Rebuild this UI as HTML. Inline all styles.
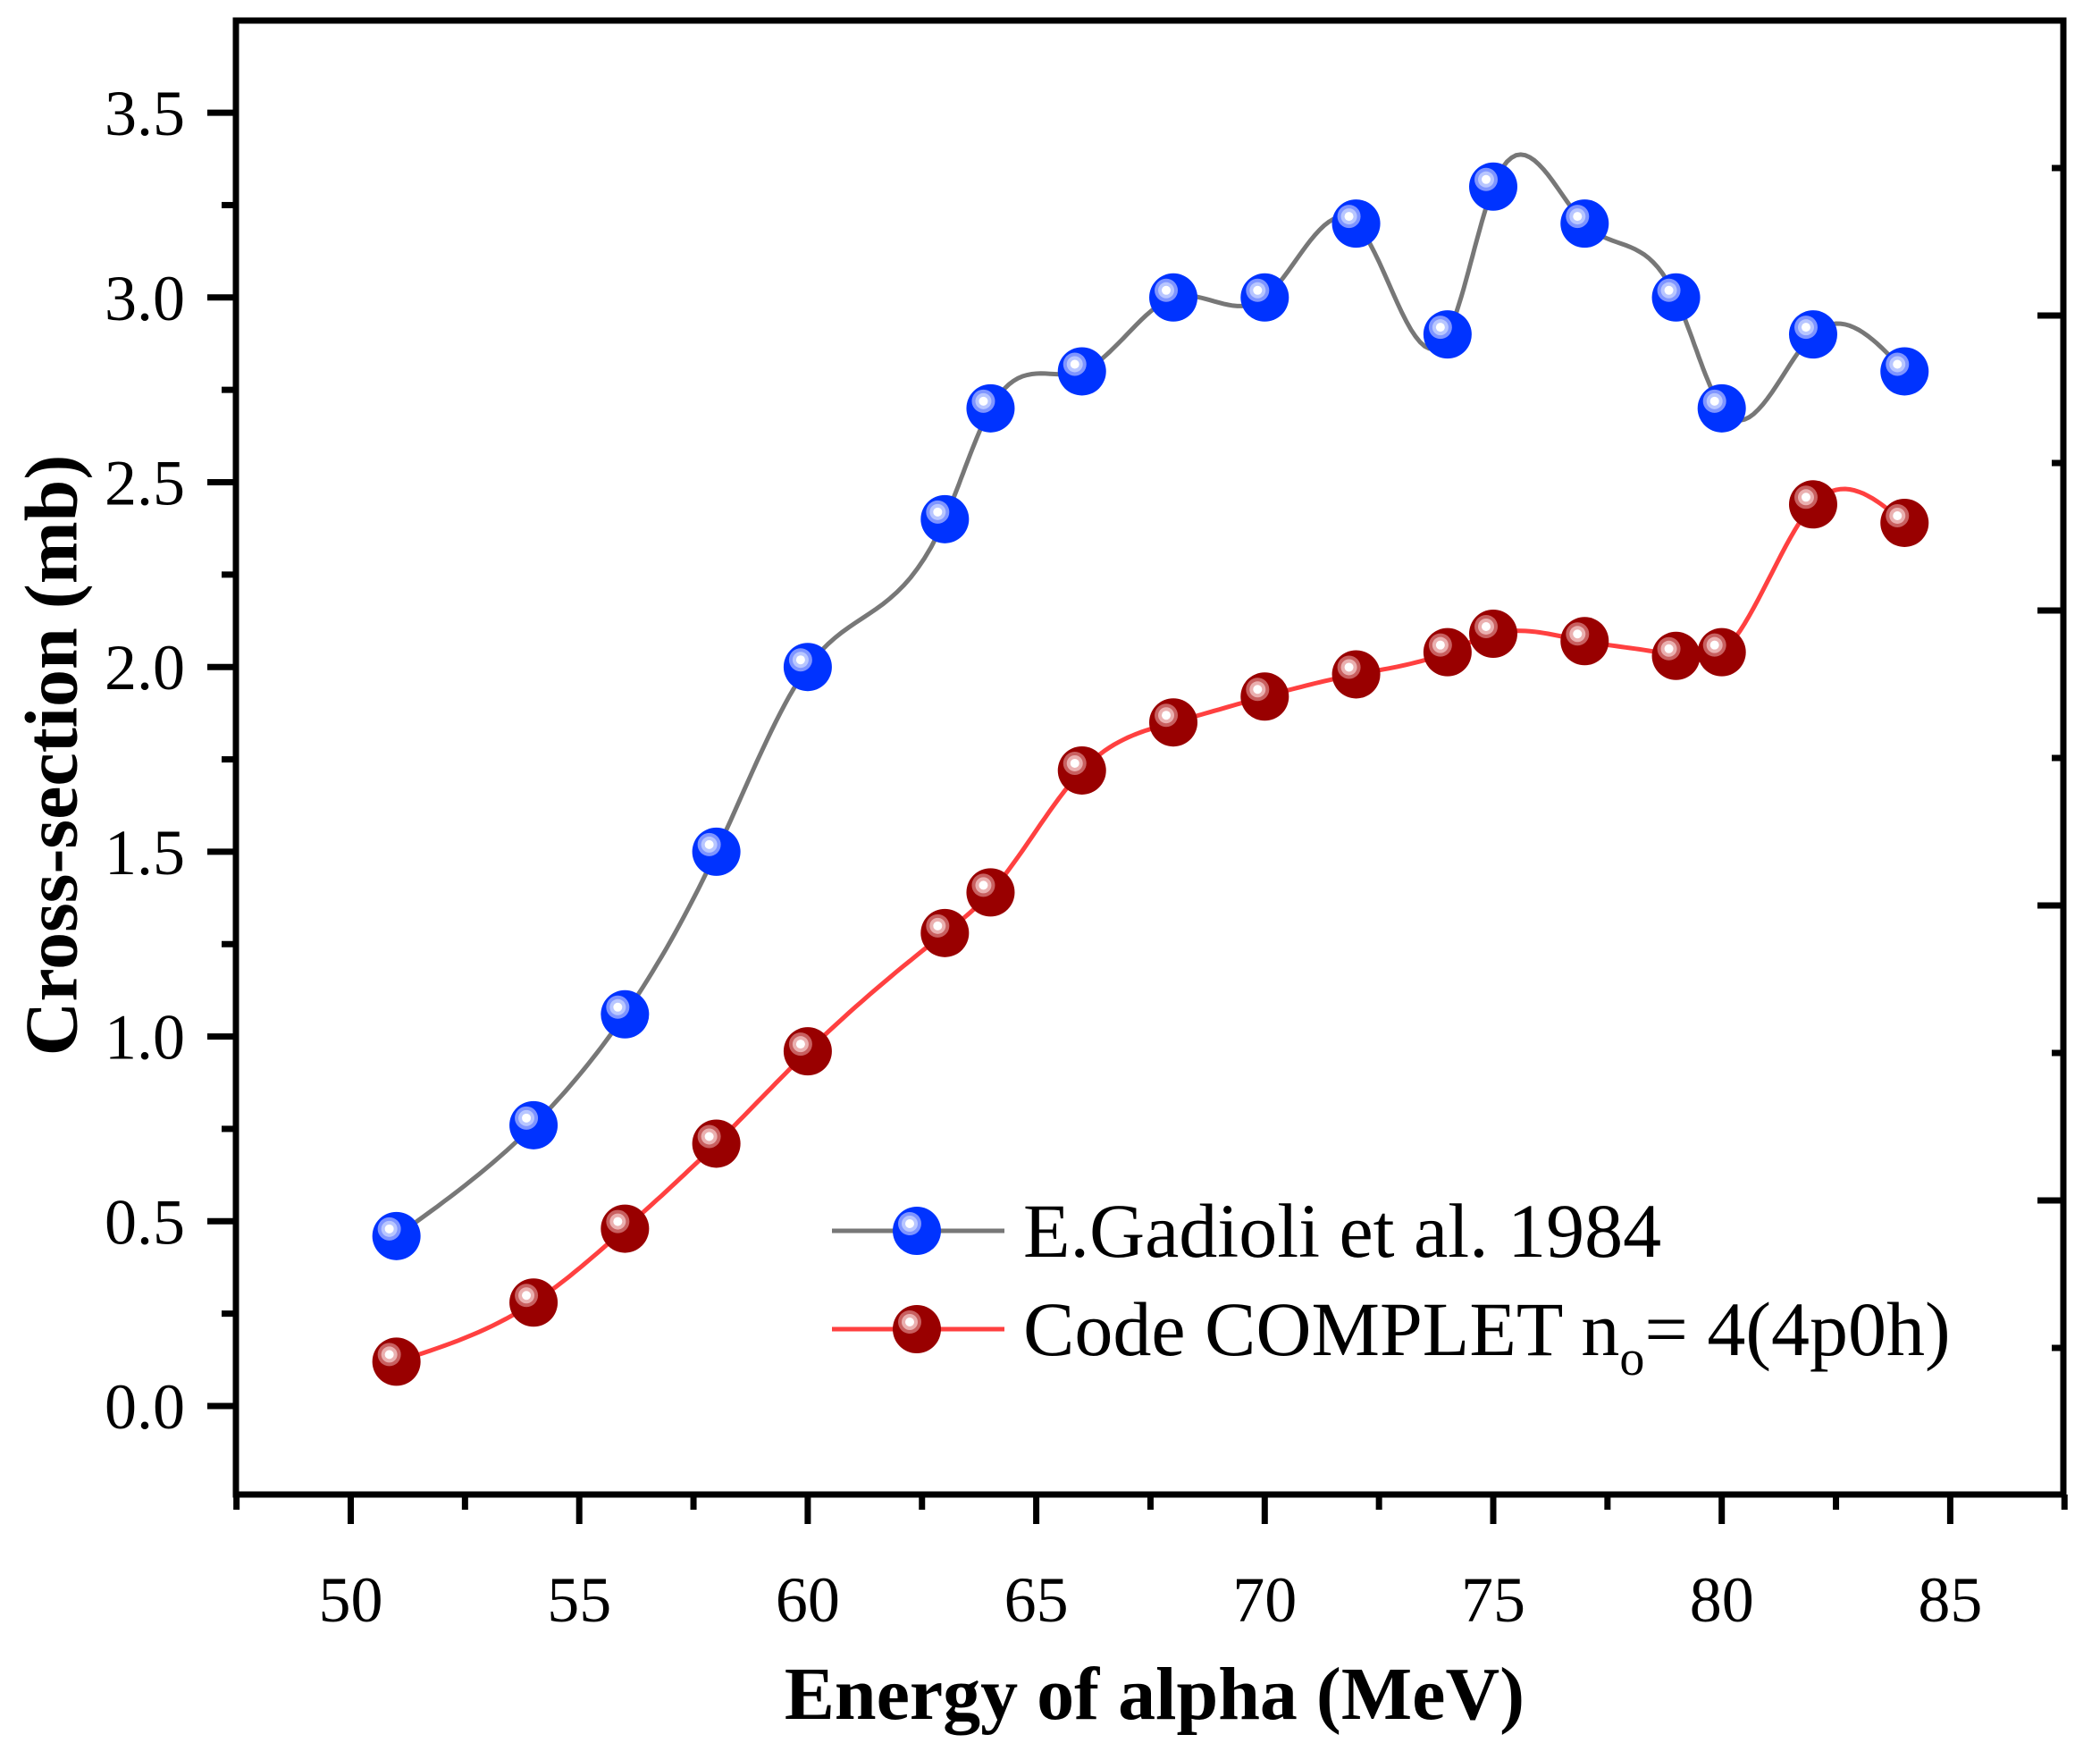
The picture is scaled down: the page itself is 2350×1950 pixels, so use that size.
<!DOCTYPE html>
<html><head><meta charset="utf-8"><style>
html,body{margin:0;padding:0;background:#fff;}
svg{display:block;font-family:"Liberation Serif",serif;}
</style></head><body>
<svg id="s" width="2350" height="1950" viewBox="0 0 2350 1950" xmlns="http://www.w3.org/2000/svg">
<g id="ax" stroke="#000" stroke-width="7" fill="none"></g>
<g id="lbl" font-size="72" fill="#000"></g>
<g id="curves" fill="none" stroke-width="5"></g>
<g id="pts"></g>
<text x="66" y="845" font-size="84" font-weight="bold" text-anchor="middle" transform="rotate(-90 66 845)" dominant-baseline="middle">Cross-section (mb)</text>
<text x="1292" y="1923" font-size="84" font-weight="bold" text-anchor="middle">Energy of alpha (MeV)</text>
<g id="leg"></g>
<text x="1145" y="1406" font-size="86">E.Gadioli et al. 1984</text>
<text x="1145" y="1516" font-size="86">Code COMPLET n<tspan font-size="56" dy="22">o</tspan><tspan dy="-22">= 4(4p0h)</tspan></text>
</svg>
<script>
var NS="http://www.w3.org/2000/svg";
function X(v){return 392.5+(v-50)*51.14;}
function Y(v){return 1573-v*413.4;}
function el(p,t,a){var e=document.createElementNS(NS,t);for(var k in a)e.setAttribute(k,a[k]);document.getElementById(p).appendChild(e);return e;}
el("ax","rect",{x:264,y:23,width:2045,height:1649});
for(var v=0;v<=3.5001;v+=0.5){var y=Y(v);el("ax","line",{x1:232,y1:y,x2:264,y2:y});
 var t=el("lbl","text",{x:207,y:y+25,"text-anchor":"end"});t.textContent=v.toFixed(1);}
for(var v=-0.25;v<=3.75;v+=0.5){var y=Y(v);if(y<23||y>1672)continue;el("ax","line",{x1:248,y1:y,x2:264,y2:y});}
for(var v=50;v<=85;v+=5){var x=X(v);el("ax","line",{x1:x,y1:1672,x2:x,y2:1705});
 var t=el("lbl","text",{x:x,y:1814,"text-anchor":"middle"});t.textContent=v;}
for(var v=47.5;v<=87.5;v+=5){var x=X(v);el("ax","line",{x1:x,y1:1672,x2:x,y2:1689});}
for(var y=353;y<1672;y+=330){el("ax","line",{x1:2280,y1:y,x2:2309,y2:y});}
for(var y=188;y<1672;y+=330){el("ax","line",{x1:2296,y1:y,x2:2309,y2:y});}
var xs=[51,54,56,58,60,63,64,66,68,70,72,74,75,77,79,80,82,84];
var b=[0.46,0.76,1.06,1.5,2.0,2.4,2.7,2.8,3.0,3.0,3.2,2.9,3.3,3.2,3.0,2.7,2.9,2.8];
var r=[0.12,0.28,0.48,0.71,0.96,1.28,1.39,1.72,1.85,1.92,1.98,2.04,2.09,2.07,2.03,2.04,2.44,2.39];
function spline(x,y){var n=x.length,h=[],al=[],l=[1],mu=[0],z=[0],c=new Array(n).fill(0),bb=[],d=[];
 for(var i=0;i<n-1;i++)h[i]=x[i+1]-x[i];
 for(var i=1;i<n-1;i++)al[i]=3/h[i]*(y[i+1]-y[i])-3/h[i-1]*(y[i]-y[i-1]);
 for(var i=1;i<n-1;i++){l[i]=2*(x[i+1]-x[i-1])-h[i-1]*mu[i-1];mu[i]=h[i]/l[i];z[i]=(al[i]-h[i-1]*z[i-1])/l[i];}
 l[n-1]=1;z[n-1]=0;c[n-1]=0;
 for(var j=n-2;j>=0;j--){c[j]=z[j]-mu[j]*c[j+1];bb[j]=(y[j+1]-y[j])/h[j]-h[j]*(c[j+1]+2*c[j])/3;d[j]=(c[j+1]-c[j])/(3*h[j]);}
 var s="";for(var i=0;i<n-1;i++){for(var k=0;k<=20;k++){var t=h[i]*k/20;var v=y[i]+bb[i]*t+c[i]*t*t+d[i]*t*t*t;
 s+=(s?"L":"M")+X(x[i]+t).toFixed(1)+","+Y(v).toFixed(1);}}return s;}
el("curves","path",{d:spline(xs,b),stroke:"#777"});
el("curves","path",{d:spline(xs,r),stroke:"#ff4040"});
function ball(g,cx,cy,col){el(g,"circle",{cx:cx,cy:cy,r:27,fill:col[0]});
 el(g,"circle",{cx:cx-8,cy:cy-8,r:13,fill:col[1]});el(g,"circle",{cx:cx-8,cy:cy-8,r:9,fill:col[2]});el(g,"circle",{cx:cx-8,cy:cy-8,r:5,fill:"#fff"});}
var BC=["#0033ff","#7f95ff","#b8c6ff"],RC=["#990000","#c86060","#eab0b0"];
for(var i=0;i<xs.length;i++){ball("pts",X(xs[i]),Y(b[i]),BC);}
for(var i=0;i<xs.length;i++){ball("pts",X(xs[i]),Y(r[i]),RC);}
el("leg","line",{x1:931,y1:1377,x2:1124,y2:1377,stroke:"#777","stroke-width":5});
el("leg","line",{x1:931,y1:1487,x2:1124,y2:1487,stroke:"#ff4040","stroke-width":5});
ball("leg",1026,1377,BC);ball("leg",1026,1487,RC);
</script>
</body></html>
